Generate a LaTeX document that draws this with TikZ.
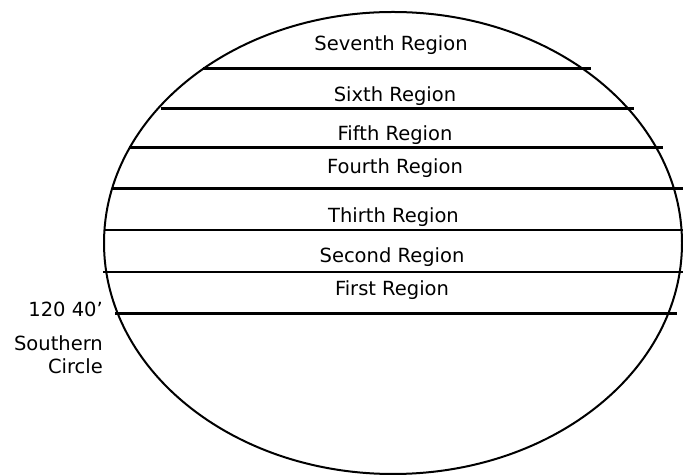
\documentclass[tikz,border=0pt]{standalone}
\usepackage{fontspec}
\setmainfont{DejaVu Sans}
\begin{document}
\begin{tikzpicture}[x=1pt,y=1pt,
  region/.style={anchor=base,inner sep=0pt,font=\fontsize{19.5}{23}\selectfont},
  side/.style={anchor=base east,inner sep=0pt,font=\fontsize{19.5}{23}\selectfont},
  thickline/.style={line width=3pt},
  thinline/.style={line width=2.2pt},
  rim/.style={line width=2pt}]
\useasboundingbox (0,0) rectangle (683,476);
% ellipse
\draw[rim] (393,233) ellipse [x radius=289, y radius=231];
% horizontal lines (y_tikz = 476 - y_px)
\draw[thickline] (203,407) -- (591,407);
\draw[thickline] (161,367) -- (634,367);
\draw[thickline] (129,328) -- (663,328);
\draw[thickline] (113,287) -- (683,287);
\draw[thinline] (105,246) -- (683,246);
\draw[thinline] (103,204) -- (683,204);
\draw[thickline] (115,162) -- (677,162);
% region labels
\node[region] (r7) at (391,425.5) {Seventh Region};
\node[region] (r6) at (395,374.3) {Sixth Region};
\node[region] (r5) at (395,335.2) {Fifth Region};
\node[region] (r4) at (395,302) {Fourth Region};
\node[region] (r3) at (393.5,253.2) {Thirth Region};
\node[region] (r2) at (392,213.2) {Second Region};
\node[region] (r1) at (392,180) {First Region};
% side labels
\node[side] (deg) at (103,159) {120 40’};
\node[side] (south) at (103,125) {Southern};
\node[side] (circ) at (103,102) {Circle};
\end{tikzpicture}
\end{document}
